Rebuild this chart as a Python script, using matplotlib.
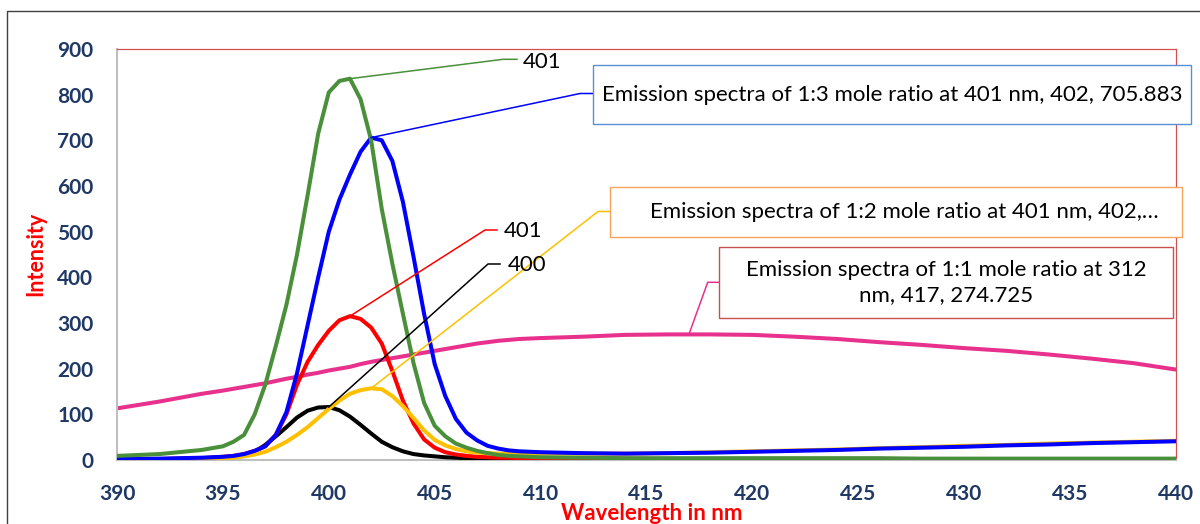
import matplotlib
matplotlib.use("Agg")
import matplotlib.pyplot as plt
from matplotlib.patches import Rectangle
from matplotlib.lines import Line2D

# ---------------- data ----------------
wavelength = [390, 392, 394, 395, 395.5, 396, 396.5, 397, 397.5, 398, 398.5, 399, 399.5,
              400, 400.5, 401, 401.5, 402, 402.5, 403, 403.5, 404, 404.5, 405, 405.5,
              406, 406.5, 407, 407.5, 408, 408.5, 409, 409.5, 410,
              412, 414, 416, 418, 420, 422, 424, 426, 428, 430, 432, 434, 436, 438, 440]

ratio_1_1 = [113, 128, 145, 152, 156, 160, 164, 168, 173, 178, 182, 187, 191,
             196, 200, 204, 210, 215, 219, 223, 227, 231, 235, 239, 243,
             247, 251, 255, 258, 261, 263, 265, 266, 267,
             270, 274, 275, 275, 274, 270, 265, 258, 252, 245, 239, 231, 222, 212, 198]

series_400 = [1, 2, 3, 5, 7, 10, 18, 33, 52, 72, 93, 108, 115,
              116, 109, 95, 77, 58, 40, 28, 19, 13, 10, 8, 6,
              5, 4, 3, 3, 2, 2, 2, 2, 2,
              1, 1, 1, 1, 1, 1, 1, 1, 1, 1, 1, 1, 1, 1, 1]

series_401_red = [1, 2, 4, 7, 9, 13, 20, 30, 55, 100, 165, 215, 252,
                  283, 306, 315, 309, 290, 255, 195, 130, 80, 45, 27, 17,
                  12, 9, 7, 6, 5, 5, 4, 4, 4,
                  3, 3, 2, 2, 2, 2, 2, 2, 2, 2, 2, 2, 2, 2, 2]

ratio_1_2 = [0, 1, 2, 3, 5, 8, 12, 18, 28, 40, 55, 72, 92,
             112, 130, 145, 153, 157, 155, 140, 118, 92, 65, 44, 32,
             24, 19, 16, 15, 14, 14, 14, 14, 14,
             14, 14, 15, 17, 19, 21, 23, 26, 28, 31, 33, 36, 38, 40, 42]

ratio_1_3 = [2, 3, 5, 7, 9, 13, 20, 30, 55, 105, 190, 295, 400,
             500, 570, 625, 675, 706, 700, 655, 565, 445, 320, 210, 140,
             90, 60, 43, 31, 25, 21, 19, 18, 17,
             15, 14, 15, 16, 18, 20, 22, 25, 27, 29, 32, 34, 37, 39, 41]

series_401_green = [9, 13, 22, 30, 40, 55, 100, 165, 250, 340, 450, 580, 715,
                    805, 830, 835, 790, 700, 550, 430, 320, 212, 125, 75, 52,
                    36, 27, 20, 15, 11, 9, 8, 7, 6,
                    5, 4, 4, 4, 4, 4, 4, 4, 3, 3, 3, 3, 3, 3, 3]

x_ticks = [390, 395, 400, 405, 410, 415, 420, 425, 430, 435, 440]
y_ticks = [0, 100, 200, 300, 400, 500, 600, 700, 800, 900]

label_green = "401"
label_red = "401"
label_black = "400"
label_1_3 = "Emission spectra of 1:3 mole ratio at 401 nm, 402, 705.883"
label_1_2 = "Emission spectra of 1:2 mole ratio at 401 nm, 402,\u2026"
label_1_1 = "Emission spectra of 1:1 mole ratio at 312\nnm, 417, 274.725"

# ---------------- styling ----------------
W, H = 1200, 524
C_PINK = "#E8318C"
C_BLACK = "#000000"
C_RED = "#FF0000"
C_YEL = "#FFC000"
C_BLUE = "#0000FF"
C_GREEN = "#4A8F3A"
NAVY = "#1F3864"
FONT = "Lato"

fig = plt.figure(figsize=(W / 100, H / 100), dpi=100)
fig.patch.set_facecolor("white")

def fx(px):
    return px / W

def fy(py):
    return 1 - py / H

ax = fig.add_axes([fx(117), fy(460), fx(1176) - fx(117), fy(49) - fy(460)])

lw = 2.9
kw = dict(lw=lw, solid_joinstyle="round", solid_capstyle="round")
ax.plot(wavelength, ratio_1_1, color=C_PINK, zorder=2, **kw)
ax.plot(wavelength, series_400, color=C_BLACK, zorder=3, **kw)
ax.plot(wavelength, series_401_red, color=C_RED, zorder=4, **kw)
ax.plot(wavelength, ratio_1_2, color=C_YEL, zorder=5, **kw)
ax.plot(wavelength, ratio_1_3, color=C_BLUE, zorder=6, **kw)
ax.plot(wavelength, series_401_green, color=C_GREEN, zorder=7, **kw)

ax.set_xlim(390, 440)
ax.set_ylim(0, 900)
ax.set_xticks(x_ticks)
ax.set_yticks(y_ticks)
ax.set_xticklabels([str(v) for v in x_ticks])
ax.set_yticklabels([str(v) for v in y_ticks])
for lab in ax.get_xticklabels() + ax.get_yticklabels():
    lab.set_fontfamily(FONT)
    lab.set_fontweight("bold")
    lab.set_fontsize(15)
    lab.set_color(NAVY)
ax.tick_params(axis="x", length=0, pad=17)
ax.tick_params(axis="y", length=0, pad=17)

for side in ("left", "bottom"):
    ax.spines[side].set_color("#BFBFBF")
    ax.spines[side].set_linewidth(1.5)
for side in ("top", "right"):
    ax.spines[side].set_color("#D05050")
    ax.spines[side].set_linewidth(0.9)

# axis titles
fig.text(fx(652), fy(514), "Wavelength in nm", color="#FF0000", fontsize=16,
         fontweight="bold", family=FONT, ha="center", va="center")
fig.text(fx(36), fy(254), "Intensity", color="#FF0000", fontsize=15.5,
         fontweight="bold", family=FONT, ha="center", va="center", rotation=90)

# outer frame
fig.add_artist(Rectangle((fx(7), -0.1), 1.2, fy(11) + 0.1, transform=fig.transFigure,
                         fill=False, edgecolor="#404040", lw=1.0))

# leader lines
to_fig = fig.transFigure.inverted()

def leader(xv, yv, ex, ey, hx, color):
    dx, dy = ax.transData.transform((xv, yv))
    sx, sy = to_fig.transform((dx, dy))
    fig.add_artist(Line2D([sx, fx(ex), fx(hx)], [sy, fy(ey), fy(ey)],
                          transform=fig.transFigure, color=color, lw=1.1, zorder=20))

i401 = wavelength.index(401)
i402 = wavelength.index(402)
i400 = wavelength.index(400)

leader(401, series_401_green[i401], 503, 59.3, 517, C_GREEN)
leader(402, ratio_1_3[i402], 580, 93.5, 593, C_BLUE)
leader(401, series_401_red[i401], 485, 230, 497, C_RED)
leader(400, series_400[i400], 488, 264, 500, C_BLACK)
leader(402, ratio_1_2[i402], 598, 211.5, 610, C_YEL)
leader(417, 274.725, 707.7, 282.3, 719, C_PINK)

# point labels
TXT = 16
fig.text(fx(523), fy(61.5), label_green, fontsize=TXT, family=FONT, ha="left", va="center", zorder=25)
fig.text(fx(504), fy(231), label_red, fontsize=TXT, family=FONT, ha="left", va="center", zorder=25)
fig.text(fx(508), fy(265), label_black, fontsize=TXT, family=FONT, ha="left", va="center", zorder=25)

def box(x0, y0, x1, y1, edge, text, ls=1.0, cx=None):
    fig.add_artist(Rectangle((fx(x0), fy(y1)), fx(x1) - fx(x0), fy(y0) - fy(y1),
                             transform=fig.transFigure, facecolor="white",
                             edgecolor=edge, lw=1.0, zorder=22))
    if cx is None:
        cx = (x0 + x1) / 2
    fig.text(fx(cx), (fy(y0) + fy(y1)) / 2, text, fontsize=TXT, family=FONT,
             ha="center", va="center", multialignment="center", linespacing=ls, zorder=25)

box(593, 65, 1191, 124, "#5B8FD5", label_1_3, cx=892)
box(610, 187, 1182, 237, "#F7A35C", label_1_2, cx=904)
box(719, 247, 1173, 318, "#C95050", label_1_1, ls=1.3, cx=946)

fig.savefig("out.png", dpi=100, facecolor="white")
